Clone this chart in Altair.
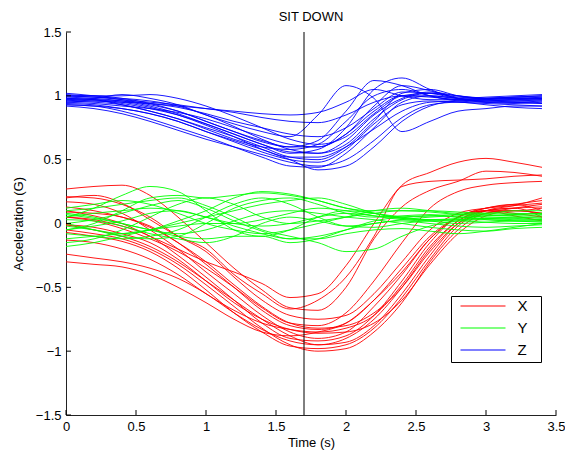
import altair as alt
import pandas as pd

# ---------------- data ----------------
time_s = [0.0, 0.2, 0.4, 0.6, 0.8, 1.0, 1.2, 1.4, 1.6, 1.8, 2.0, 2.2, 2.4, 2.6, 2.8, 3.0, 3.2, 3.4]

x_curves = [
    [0.10, 0.06, 0.00, -0.10, -0.20, -0.30, -0.38, -0.47, -0.58, -0.55, -0.33, 0.00, 0.30, 0.40, 0.48, 0.51, 0.48, 0.44],
    [0.20, 0.22, 0.16, 0.03, -0.10, -0.20, -0.40, -0.55, -0.67, -0.60, -0.42, -0.10, 0.29, 0.33, 0.34, 0.35, 0.37, 0.38],
    [0.27, 0.29, 0.30, 0.22, 0.05, -0.15, -0.35, -0.52, -0.66, -0.68, -0.50, -0.12, 0.13, 0.26, 0.33, 0.41, 0.40, 0.37],
    [0.05, 0.02, -0.04, -0.12, -0.22, -0.35, -0.50, -0.66, -0.78, -0.80, -0.70, -0.45, -0.15, 0.12, 0.25, 0.30, 0.32, 0.33],
    [0.17, 0.15, 0.08, -0.05, -0.20, -0.38, -0.55, -0.72, -0.85, -0.90, -0.85, -0.65, -0.40, -0.12, 0.05, 0.12, 0.15, 0.18],
    [-0.01, -0.05, -0.10, -0.18, -0.30, -0.45, -0.60, -0.75, -0.88, -0.95, -0.93, -0.80, -0.55, -0.25, 0.00, 0.10, 0.12, 0.13],
    [0.13, 0.10, 0.05, -0.02, -0.15, -0.32, -0.50, -0.68, -0.80, -0.83, -0.78, -0.60, -0.35, -0.10, 0.05, 0.10, 0.10, 0.12],
    [-0.05, -0.08, -0.12, -0.20, -0.32, -0.48, -0.65, -0.82, -0.95, -1.00, -0.98, -0.85, -0.62, -0.30, -0.05, 0.08, 0.10, 0.08],
    [-0.24, -0.27, -0.30, -0.35, -0.43, -0.55, -0.70, -0.83, -0.92, -0.95, -0.90, -0.75, -0.50, -0.20, 0.02, 0.10, 0.08, 0.05],
    [-0.30, -0.32, -0.34, -0.40, -0.50, -0.62, -0.75, -0.85, -0.88, -0.85, -0.78, -0.60, -0.38, -0.12, 0.05, 0.12, 0.15, 0.10],
    [0.09, 0.08, 0.05, -0.03, -0.15, -0.30, -0.48, -0.65, -0.78, -0.82, -0.80, -0.70, -0.50, -0.22, 0.00, 0.08, 0.12, 0.15],
    [-0.07, -0.10, -0.14, -0.22, -0.35, -0.52, -0.70, -0.85, -0.96, -0.98, -0.95, -0.82, -0.58, -0.28, -0.02, 0.10, 0.14, 0.20],
    [-0.13, -0.15, -0.20, -0.28, -0.40, -0.55, -0.68, -0.78, -0.83, -0.85, -0.82, -0.72, -0.48, -0.18, 0.02, 0.10, 0.12, 0.05],
    [0.21, 0.20, 0.15, 0.05, -0.10, -0.22, -0.42, -0.60, -0.72, -0.75, -0.72, -0.55, -0.30, -0.05, 0.08, 0.12, 0.14, 0.16],
    [0.05, 0.03, -0.02, -0.10, -0.25, -0.42, -0.60, -0.78, -0.90, -0.92, -0.88, -0.72, -0.45, -0.15, 0.05, 0.10, 0.06, 0.02],
    [-0.01, -0.03, -0.08, -0.15, -0.28, -0.45, -0.62, -0.75, -0.83, -0.86, -0.85, -0.78, -0.60, -0.32, -0.08, 0.06, 0.10, 0.08],
]

y_curves = [
    [0.05, 0.12, 0.22, 0.29, 0.25, 0.10, -0.05, -0.10, -0.05, 0.05, 0.10, 0.08, 0.05, 0.03, 0.03, 0.04, 0.05, 0.05],
    [-0.05, 0.00, 0.10, 0.20, 0.22, 0.20, 0.22, 0.24, 0.22, 0.18, 0.12, 0.08, 0.05, 0.06, 0.07, 0.07, 0.06, 0.06],
    [0.10, 0.12, 0.15, 0.18, 0.20, 0.14, 0.05, -0.05, -0.10, -0.15, -0.22, -0.20, -0.10, -0.02, 0.02, 0.03, 0.02, 0.01],
    [-0.15, -0.12, -0.05, 0.05, 0.15, 0.20, 0.15, 0.05, 0.00, 0.02, 0.05, 0.08, 0.10, 0.10, 0.09, 0.08, 0.08, 0.07],
    [0.00, -0.05, -0.10, -0.12, -0.10, 0.00, 0.12, 0.18, 0.20, 0.15, 0.08, 0.05, 0.06, 0.07, 0.05, 0.04, 0.03, 0.03],
    [0.08, 0.05, 0.00, -0.05, -0.08, -0.05, 0.02, 0.08, 0.10, 0.08, 0.05, 0.03, 0.00, -0.03, -0.05, -0.06, -0.04, -0.03],
    [-0.18, -0.15, -0.10, -0.05, 0.00, 0.05, 0.10, 0.15, 0.18, 0.20, 0.15, 0.08, 0.04, 0.03, 0.04, 0.06, 0.07, 0.08],
    [0.03, 0.02, -0.02, -0.08, -0.12, -0.15, -0.10, 0.00, 0.05, 0.02, -0.02, 0.00, 0.03, 0.05, 0.06, 0.05, 0.05, 0.04],
    [0.12, 0.15, 0.18, 0.15, 0.08, 0.00, -0.05, -0.08, -0.05, 0.00, 0.05, 0.10, 0.12, 0.10, 0.08, 0.08, 0.10, 0.10],
    [-0.08, -0.10, -0.12, -0.10, -0.05, 0.05, 0.15, 0.20, 0.15, 0.05, -0.02, -0.03, 0.00, 0.02, 0.02, 0.01, 0.00, 0.00],
    [0.05, 0.08, 0.10, 0.12, 0.10, 0.05, -0.02, -0.08, -0.12, -0.10, -0.05, 0.00, 0.02, 0.00, -0.02, -0.03, -0.02, -0.01],
    [-0.12, -0.10, -0.08, -0.05, -0.02, 0.00, 0.00, 0.03, 0.08, 0.12, 0.10, 0.06, 0.03, 0.02, 0.03, 0.04, 0.04, 0.03],
    [0.00, 0.03, 0.08, 0.14, 0.18, 0.12, 0.02, -0.06, -0.12, -0.12, -0.08, -0.05, -0.04, -0.06, -0.08, -0.06, -0.03, 0.00],
    [-0.02, -0.05, -0.08, -0.05, 0.02, 0.10, 0.20, 0.25, 0.23, 0.18, 0.12, 0.10, 0.10, 0.09, 0.07, 0.06, 0.07, 0.08],
    [0.07, 0.04, 0.00, -0.05, -0.10, -0.12, -0.10, -0.10, -0.15, -0.12, -0.05, 0.02, 0.05, 0.06, 0.05, 0.03, 0.02, 0.02],
    [-0.05, -0.02, 0.02, 0.08, 0.10, 0.05, 0.00, -0.02, 0.00, 0.05, 0.08, 0.06, 0.04, 0.02, 0.00, 0.01, 0.02, 0.02],
]

z_curves = [
    [1.00, 0.99, 0.97, 0.95, 0.93, 0.90, 0.88, 0.86, 0.85, 0.87, 0.95, 1.05, 1.00, 0.97, 0.97, 0.98, 0.98, 0.99],
    [0.97, 0.98, 1.01, 0.98, 0.93, 0.85, 0.78, 0.72, 0.68, 0.85, 1.08, 0.98, 0.72, 0.80, 0.88, 0.90, 0.92, 0.92],
    [0.95, 0.96, 0.94, 0.90, 0.85, 0.78, 0.70, 0.62, 0.55, 0.58, 0.75, 1.05, 1.14, 1.05, 0.98, 0.96, 0.97, 0.97],
    [1.02, 1.00, 0.97, 0.93, 0.88, 0.80, 0.72, 0.64, 0.60, 0.65, 0.88, 1.12, 1.08, 1.00, 0.97, 0.98, 0.99, 1.00],
    [0.98, 0.97, 0.93, 0.88, 0.82, 0.75, 0.68, 0.60, 0.52, 0.50, 0.60, 0.80, 1.02, 1.05, 1.00, 0.97, 0.96, 0.96],
    [0.93, 0.92, 0.88, 0.82, 0.75, 0.68, 0.60, 0.52, 0.45, 0.44, 0.55, 0.75, 0.95, 1.00, 0.98, 0.95, 0.94, 0.95],
    [0.96, 0.97, 0.96, 0.94, 0.91, 0.86, 0.80, 0.75, 0.70, 0.68, 0.75, 0.90, 1.03, 1.02, 0.98, 0.97, 0.98, 0.98],
    [1.00, 0.99, 0.98, 0.96, 0.92, 0.85, 0.76, 0.66, 0.58, 0.55, 0.62, 0.82, 0.97, 1.02, 1.00, 0.98, 0.97, 0.98],
    [0.94, 0.93, 0.90, 0.86, 0.80, 0.72, 0.64, 0.56, 0.50, 0.48, 0.58, 0.78, 0.93, 0.96, 0.95, 0.94, 0.93, 0.92],
    [0.97, 0.96, 0.95, 0.94, 0.92, 0.90, 0.87, 0.83, 0.80, 0.79, 0.85, 0.95, 1.00, 0.99, 0.97, 0.96, 0.96, 0.97],
    [0.99, 0.98, 0.96, 0.92, 0.86, 0.78, 0.70, 0.62, 0.56, 0.55, 0.65, 0.85, 0.98, 1.03, 1.00, 0.98, 0.99, 1.00],
    [0.92, 0.90, 0.86, 0.80, 0.73, 0.66, 0.60, 0.54, 0.48, 0.45, 0.50, 0.65, 0.83, 0.93, 0.95, 0.93, 0.91, 0.90],
    [1.01, 1.00, 1.00, 1.01, 0.98, 0.92, 0.84, 0.75, 0.66, 0.62, 0.68, 0.86, 1.00, 1.02, 0.99, 0.98, 0.99, 0.99],
    [0.95, 0.94, 0.92, 0.90, 0.87, 0.82, 0.75, 0.68, 0.62, 0.60, 0.70, 0.92, 1.08, 1.04, 0.98, 0.95, 0.95, 0.96],
    [0.98, 0.97, 0.95, 0.91, 0.85, 0.77, 0.68, 0.58, 0.50, 0.42, 0.45, 0.60, 0.80, 0.92, 0.96, 0.97, 0.98, 0.98],
    [0.96, 0.95, 0.93, 0.88, 0.82, 0.74, 0.66, 0.60, 0.58, 0.62, 0.80, 1.00, 1.05, 1.00, 0.96, 0.95, 0.95, 0.94],
    [1.00, 1.00, 0.98, 0.94, 0.88, 0.80, 0.72, 0.65, 0.60, 0.60, 0.70, 0.88, 1.00, 1.00, 0.98, 0.99, 1.00, 1.01],
    [0.93, 0.92, 0.90, 0.86, 0.80, 0.72, 0.65, 0.58, 0.52, 0.52, 0.60, 0.74, 0.88, 0.95, 0.96, 0.96, 0.95, 0.94],
]

axis_names = ["X", "Y", "Z"]
axis_colors = ["#ff0000", "#00ff00", "#0000ff"]
x_ticks = [0, 0.5, 1, 1.5, 2, 2.5, 3, 3.5]
y_ticks = [-1.5, -1, -0.5, 0, 0.5, 1, 1.5]
event_time = [1.7]

# ---------------- tidy table ----------------
rows = []
order = 0
for name, curves in zip(axis_names, [x_curves, y_curves, z_curves]):
    for i, c in enumerate(curves):
        for t, v in zip(time_s, c):
            rows.append({"t": t, "v": v, "axis": name, "curve": f"{name}{i}", "ord": order})
        order += 1
df = pd.DataFrame(rows)

FONT = "Liberation Sans"
W, H = 490, 383
NBSP = "\u00a0"

xscale = alt.Scale(domain=[0, 3.5], nice=False, zero=False)
yscale = alt.Scale(domain=[-1.5, 1.5], nice=False, zero=False)

lines = alt.Chart(df).mark_line(strokeWidth=0.9, interpolate="monotone", clip=True).encode(
    x=alt.X("t:Q", scale=xscale,
            axis=alt.Axis(values=x_ticks, format="~g", title="Time (s)", tickSize=0,
                          labelFlush=False, labelPadding=5, titlePadding=3)),
    y=alt.Y("v:Q", scale=yscale,
            axis=alt.Axis(values=y_ticks, format="~g", title="Acceleration (G)", tickSize=0,
                          labelFlush=False, labelPadding=5, titlePadding=10)),
    color=alt.Color("axis:N", title=NBSP,
                    scale=alt.Scale(domain=axis_names, range=axis_colors),
                    legend=alt.Legend(orient="none", legendX=385, legendY=264,
                                      symbolType="stroke", symbolSize=2025, symbolStrokeWidth=1.2,
                                      clipHeight=13, rowPadding=6, padding=3.5,
                                      symbolOffset=5, labelOffset=11,
                                      titleOrient="right", titlePadding=10, titleFontSize=10,
                                      labelFontSize=15, labelFont=FONT, labelColor="#000000",
                                      strokeColor="#000000", fillColor="#ffffff")),
    detail="curve:N",
    order="ord:Q",
)

vline = alt.Chart(pd.DataFrame({"t": event_time})).mark_rule(color="#000000", strokeWidth=1).encode(
    x=alt.X("t:Q", scale=xscale),
    y=alt.value(0), y2=alt.value(H),
)

xt = alt.Chart(pd.DataFrame({"t": x_ticks})).mark_rule(color="#000000", strokeWidth=1).encode(
    x=alt.X("t:Q", scale=xscale),
    y=alt.value(H), y2=alt.value(H - 5),
)
yt = alt.Chart(pd.DataFrame({"v": y_ticks})).mark_rule(color="#000000", strokeWidth=1).encode(
    y=alt.Y("v:Q", scale=yscale),
    x=alt.value(0), x2=alt.value(5),
)

chart = alt.layer(lines, vline, xt, yt).properties(
    width=W, height=H,
    title=alt.Title("SIT DOWN", fontSize=13, fontWeight="normal", font=FONT, color="#000000",
                    offset=2, frame="group"),
    autosize=alt.AutoSizeParams(type="none"),
    padding={"left": 58, "top": 24, "right": 9, "bottom": 36},
).configure_view(stroke=None).configure_axis(
    domainColor="#222222", domainWidth=1, grid=False,
    labelFont=FONT, labelFontSize=13, labelColor="#000000",
    titleFont=FONT, titleFontSize=13, titleFontWeight="normal", titleColor="#000000",
)

chart.save("out.html", embed_options={"renderer": "svg", "actions": False})
